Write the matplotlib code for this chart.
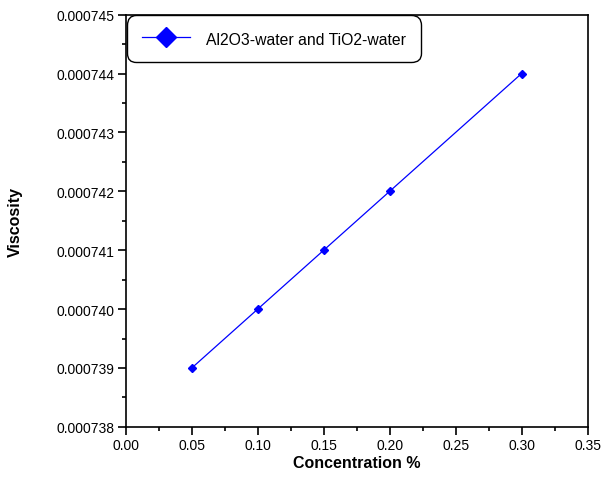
import matplotlib.pyplot as plt
from matplotlib import font_manager
from matplotlib.ticker import MultipleLocator, FormatStrFormatter

plt.rcParams['font.family'] = ['Liberation Sans', 'DejaVu Sans']

# concentration (%) and viscosity values
concentration = [0.05, 0.10, 0.15, 0.20, 0.30]
viscosity = [0.000739, 0.000740, 0.000741, 0.000742, 0.000744]
series_label = "Al2O3-water and TiO2-water"

# legend text looks condensed, use the narrow face if it is there
try:
    font_manager.findfont('Liberation Sans Narrow', fallback_to_default=False)
    leg_font = {'family': 'Liberation Sans Narrow', 'size': 13}
except ValueError:
    leg_font = {'family': 'Liberation Sans', 'size': 11.3}

fig = plt.figure(figsize=(6.02, 4.89), dpi=100)
ax = fig.add_axes([0.209, 0.125, 0.767, 0.843])

ax.plot(concentration, viscosity, color='blue', lw=0.9, marker='D',
        markersize=4.2, label=series_label)

ax.set_xlim(0, 0.35)
ax.set_ylim(0.000738, 0.000745)
ax.xaxis.set_major_locator(MultipleLocator(0.05))
ax.xaxis.set_minor_locator(MultipleLocator(0.025))
ax.yaxis.set_major_locator(MultipleLocator(0.000001))
ax.yaxis.set_minor_locator(MultipleLocator(0.0000005))
ax.xaxis.set_major_formatter(FormatStrFormatter('%.2f'))
ax.yaxis.set_major_formatter(FormatStrFormatter('%.6f'))
ax.yaxis.get_offset_text().set_visible(False)

ax.tick_params(which='both', direction='out', top=False, right=False,
               labelsize=10, width=1.2, pad=2.5)
ax.tick_params(which='major', length=5.5)
ax.tick_params(which='minor', length=3)
for s in ax.spines.values():
    s.set_linewidth(1.2)

ax.set_xlabel("Concentration %", fontsize=11.5, fontweight='bold')
ax.set_ylabel("Viscosity", fontsize=11.5, fontweight='bold')
ax.xaxis.set_label_coords(0.5, -0.068)
ax.yaxis.set_label_coords(-0.222, 0.5)

leg = ax.legend(loc='upper left', bbox_to_anchor=(0.002, 0.998), prop=leg_font,
                markerscale=2.5, handlelength=3.1, handleheight=1.3,
                handletextpad=1.0, borderpad=0.95, fancybox=True,
                framealpha=1, edgecolor='black', borderaxespad=0.0)
leg.get_frame().set_linewidth(1.0)
leg.get_frame().set_boxstyle('round', pad=0.0, rounding_size=0.6)

fig.savefig('out.png', dpi=100)
